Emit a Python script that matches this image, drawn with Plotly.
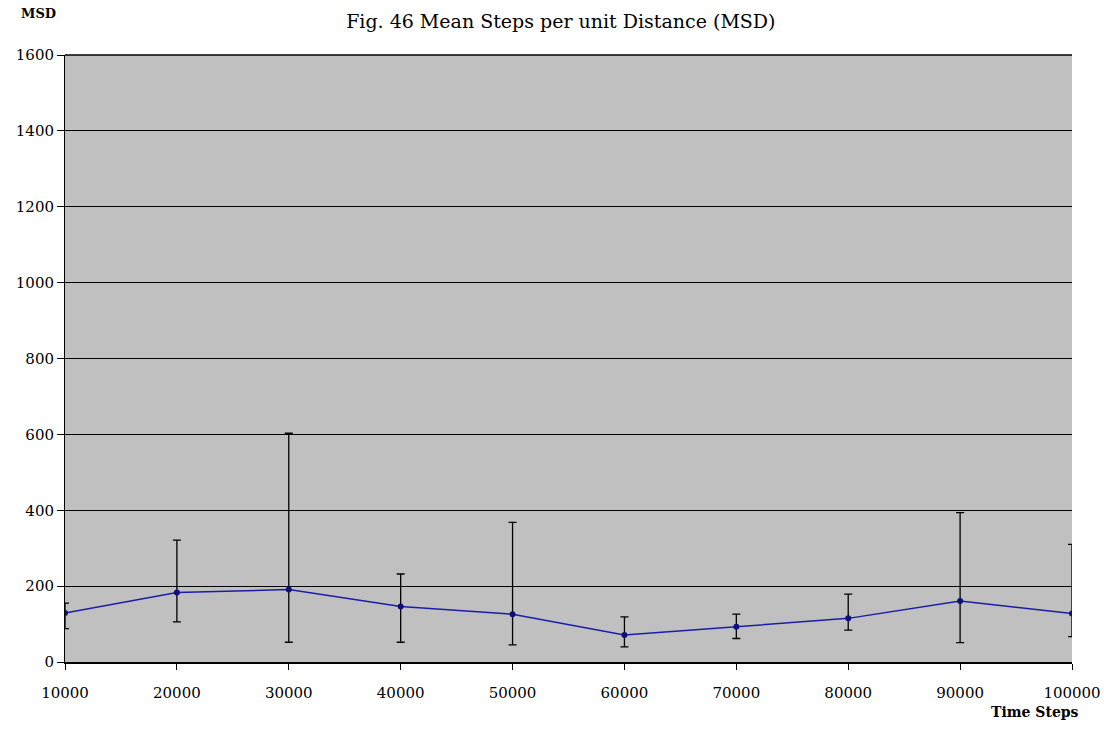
import plotly.graph_objects as go

# Time step checkpoints and mean steps per unit distance
time_steps = [10000, 20000, 30000, 40000, 50000, 60000, 70000, 80000, 90000, 100000]
msd_mean = [129, 183, 191, 146, 126, 71, 93, 115, 161, 128]
msd_upper = [155, 321, 603, 232, 368, 119, 126, 179, 394, 310]
msd_lower = [88, 106, 52, 52, 45, 40, 62, 84, 51, 67]

err_plus = [u - m for u, m in zip(msd_upper, msd_mean)]
err_minus = [m - l for m, l in zip(msd_mean, msd_lower)]

y_ticks = [0, 200, 400, 600, 800, 1000, 1200, 1400, 1600]

serif = "DejaVu Serif, Liberation Serif, serif"

fig = go.Figure()
fig.add_trace(go.Scatter(
    x=time_steps,
    y=msd_mean,
    mode="lines+markers",
    line=dict(color="#1c1ca8", width=1.5),
    marker=dict(color="#10107a", size=6),
    error_y=dict(
        type="data",
        symmetric=False,
        array=err_plus,
        arrayminus=err_minus,
        color="black",
        thickness=1.3,
        width=4,
    ),
    showlegend=False,
))

fig.update_layout(
    width=1104,
    height=750,
    margin=dict(l=65, r=32, t=55, b=88),
    paper_bgcolor="white",
    plot_bgcolor="#c0c0c0",
    font=dict(family=serif, color="black", size=15),
    title=dict(
        text="Fig. 46 Mean Steps per unit Distance (MSD)",
        x=0.508, xanchor="center", y=0.971, yanchor="middle",
        font=dict(family=serif, size=19, color="black"),
    ),
    xaxis=dict(
        range=[10000, 100000],
        tickvals=time_steps,
        ticktext=[str(t) for t in time_steps],
        automargin=False,
        showgrid=False,
        zeroline=False,
        showline=True,
        linecolor="black",
        linewidth=1.5,
        ticks="outside",
        ticklen=6,
        tickcolor="black",
        ticklabelstandoff=10,
        tickfont=dict(family=serif, size=15, color="black"),
    ),
    yaxis=dict(
        range=[0, 1600],
        tickvals=y_ticks,
        automargin=False,
        showgrid=True,
        gridcolor="black",
        gridwidth=1,
        zeroline=False,
        showline=True,
        linecolor="black",
        linewidth=1,
        ticks="outside",
        ticklen=7,
        tickcolor="black",
        tickfont=dict(family=serif, size=15, color="black"),
    ),
    annotations=[
        dict(text="<b>MSD</b>", xref="paper", yref="paper", x=-0.046, y=1.068,
             xanchor="left", yanchor="middle", showarrow=False,
             font=dict(family=serif, size=13, color="black")),
        dict(text="<b>Time Steps</b>", xref="paper", yref="paper", x=0.963, y=-0.083,
             xanchor="center", yanchor="middle", showarrow=False,
             font=dict(family=serif, size=14, color="black")),
    ],
)

# top border of the plotting area
fig.add_shape(type="line", xref="paper", yref="paper", x0=0, x1=1, y0=1, y1=1,
              line=dict(color="black", width=1.5))

fig.write_html("out.html")
